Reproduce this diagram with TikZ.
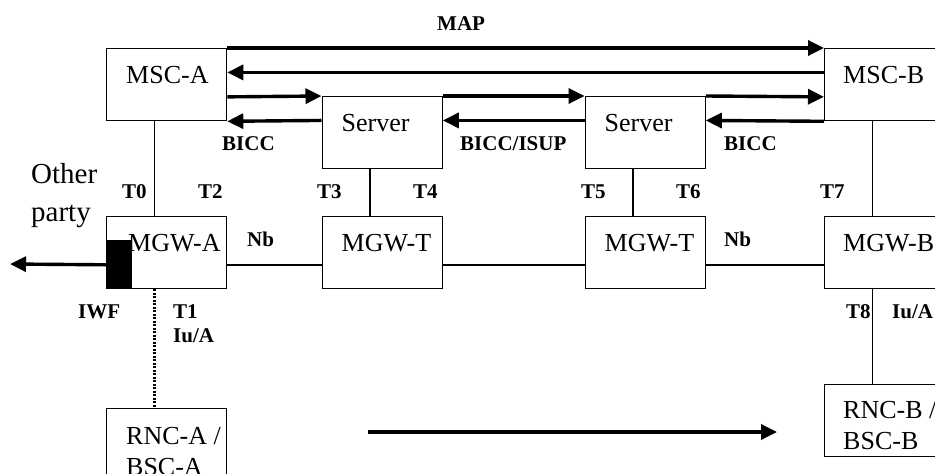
\documentclass[tikz,border=0pt]{standalone}
\usepackage{fontspec}
\setmainfont{Liberation Serif}
\usetikzlibrary{arrows.meta,calc}
\begin{document}
\begin{tikzpicture}[x=1pt,y=-1pt,
  box/.style={draw,line width=1.3pt,rectangle,minimum width=120pt,minimum height=72pt,inner sep=0pt,anchor=north west},
  boxtxt/.style={anchor=base west,inner sep=0pt,font=\fontsize{26}{30}\selectfont},
  lbl/.style={anchor=base west,inner sep=0pt,font=\fontsize{21}{24}\selectfont\bfseries},
  thin/.style={line width=1.4pt},
  sig/.style={line width=3.4pt,-{Triangle[length=16pt,width=15pt]}},
  iwfbox/.style={fill=black,draw=black,line width=1pt,minimum width=25pt,minimum height=48pt,inner sep=0pt,anchor=south west}
]
\clip (0,0) rectangle (935,474);
\fill[white] (0,0) rectangle (935,474);

% boxes
\node[box] (mscA) at (106,48) {};
\node[box] (mscB) at (824,48) {};
\node[box] (srv1) at (321.5,96) {};
\node[box] (srv2) at (584.5,96) {};
\node[box] (mgwA) at (106,216) {};
\node[box] (mgwT1) at (321.5,216) {};
\node[box] (mgwT2) at (584.5,216) {};
\node[box] (mgwB) at (824,216) {};
\node[box] (rncA) at (106,408) {};
\node[box] (rncB) at (824,384) {};

% box texts
\node[boxtxt] (tmscA) at ($(mscA.north west)+(20,35)$) {MSC-A};
\node[boxtxt] (tmscB) at ($(mscB.north west)+(19,35)$) {MSC-B};
\node[boxtxt] (tsrv1) at ($(srv1.north west)+(20,35)$) {Server};
\node[boxtxt] (tsrv2) at ($(srv2.north west)+(20,35)$) {Server};
\node[boxtxt] (tmgwT1) at ($(mgwT1.north west)+(20,35)$) {MGW-T};
\node[boxtxt] (tmgwT2) at ($(mgwT2.north west)+(20,35)$) {MGW-T};
\node[boxtxt] (tmgwB) at ($(mgwB.north west)+(19,35)$) {MGW-B};
\node[boxtxt] (trncA1) at ($(rncA.north west)+(20,36)$) {RNC-A /};
\node[boxtxt] (trncA2) at ($(rncA.north west)+(20,67)$) {BSC-A};
\node[boxtxt] (trncB1) at ($(rncB.north west)+(19,34)$) {RNC-B /};
\node[boxtxt] (trncB2) at ($(rncB.north west)+(19,65)$) {BSC-B};

% IWF block
\node[iwfbox] (iwf) at (mgwA.south west) {};
\node[boxtxt] (tmgwA) at ($(mgwA.north west)+(22,35)$) {MGW-A};
\coordinate (other) at (10,264);
\draw[sig] (iwf.west) -- (other);

% Other party
\node[anchor=base west,inner sep=0pt,font=\fontsize{29}{34}\selectfont] (oth1) at (31,183) {Other};
\node[anchor=base west,inner sep=0pt,font=\fontsize{29}{34}\selectfont] (oth2) at (31,221) {party};

% MAP / BICC signalling arrows
\draw[sig] (mscA.north east) -- (mscB.north west);
\draw[sig] ($(mscB.north west)!1/3!(mscB.south west)$) -- ($(mscA.north east)!1/3!(mscA.south east)$);
\draw[sig] ($(mscA.north east)!2/3!(mscA.south east)$) -- (srv1.north west);
\draw[sig] (srv1.north east) -- (srv2.north west);
\draw[sig] (srv2.north east) -- ($(mscB.north west)!2/3!(mscB.south west)$);
\draw[sig] ($(srv1.north west)!1/3!(srv1.south west)$) -- (mscA.south east);
\draw[sig] ($(srv2.north west)!1/3!(srv2.south west)$) -- ($(srv1.north east)!1/3!(srv1.south east)$);
\draw[sig] (mscB.south west) -- ($(srv2.north east)!1/3!(srv2.south east)$);

% vertical control links
\draw[thin] ($(mscA.south west)!0.4!(mscA.south east)$) -- ($(mgwA.north west)!0.4!(mgwA.north east)$);
\draw[thin] ($(srv1.south west)!0.4!(srv1.south east)$) -- ($(mgwT1.north west)!0.4!(mgwT1.north east)$);
\draw[thin] ($(srv2.south west)!0.4!(srv2.south east)$) -- ($(mgwT2.north west)!0.4!(mgwT2.north east)$);
\draw[thin] ($(mscB.south west)!0.4!(mscB.south east)$) -- ($(mgwB.north west)!0.4!(mgwB.north east)$);
\draw[thin] ($(mgwB.south west)!0.4!(mgwB.south east)$) -- ($(rncB.north west)!0.4!(rncB.north east)$);
\draw[line width=2.2pt,dash pattern=on 2pt off 1.5pt] ($(mgwA.south west)!0.4!(mgwA.south east)$) -- ($(rncA.north west)!0.4!(rncA.north east)$);

% Nb bearer links
\draw[thin] ($(mgwA.north east)!2/3!(mgwA.south east)$) -- ($(mgwT1.north west)!2/3!(mgwT1.south west)$);
\draw[thin] ($(mgwT1.north east)!2/3!(mgwT1.south east)$) -- ($(mgwT2.north west)!2/3!(mgwT2.south west)$);
\draw[thin] ($(mgwT2.north east)!2/3!(mgwT2.south east)$) -- ($(mgwB.north west)!2/3!(mgwB.south west)$);

% bottom arrow
\coordinate (ba1) at (368,432);
\coordinate (ba2) at (777,432);
\draw[sig] (ba1) -- (ba2);

% labels
\node[lbl] (lmap) at (437,30) {MAP};
\node[lbl] (lb1) at (222,150) {BICC};
\node[lbl] (lb2) at (460,150) {BICC/ISUP};
\node[lbl] (lb3) at (724,150) {BICC};
\node[lbl] (lt0) at (122,198) {T0};
\node[lbl] (lt2) at (198,198) {T2};
\node[lbl] (lt3) at (317,198) {T3};
\node[lbl] (lt4) at (413,198) {T4};
\node[lbl] (lt5) at (581,198) {T5};
\node[lbl] (lt6) at (676,198) {T6};
\node[lbl] (lt7) at (820,198) {T7};
\node[lbl] (lnb1) at (247,246) {Nb};
\node[lbl] (lnb2) at (724,246) {Nb};
\node[lbl] (liwf) at (78,318) {IWF};
\node[lbl] (lt1) at (173,318) {T1};
\node[lbl] (liua) at (173,342) {Iu/A};
\node[lbl] (lt8) at (846,318) {T8};
\node[lbl] (liub) at (892,318) {Iu/A};
\end{tikzpicture}
\end{document}
